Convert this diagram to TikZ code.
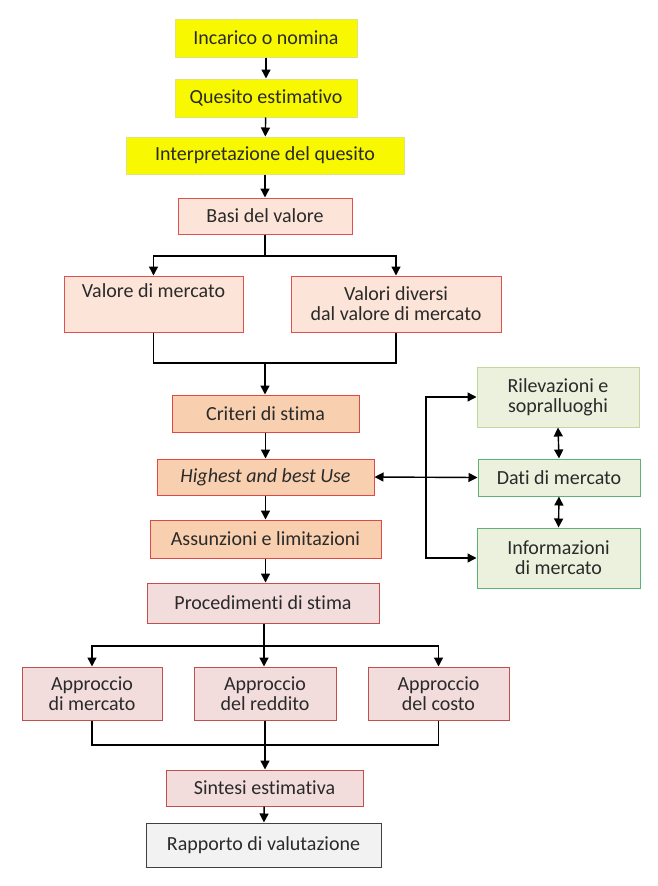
\documentclass[tikz,border=0pt]{standalone}
\usepackage{fontspec}
\setmainfont{Carlito}[Ligatures=NoCommon]
\usetikzlibrary{arrows.meta}
\definecolor{txt}{HTML}{2A2A2A}
\definecolor{yfill}{HTML}{F8F800}
\definecolor{yline}{HTML}{E2E27A}
\definecolor{pfill}{HTML}{FCE5D8}
\definecolor{pline}{HTML}{E0504F}
\definecolor{ofill}{HTML}{F8CFAF}
\definecolor{oline}{HTML}{E04848}
\definecolor{rfill}{HTML}{F2DCDC}
\definecolor{rline}{HTML}{C0504D}
\definecolor{gfill}{HTML}{EBF1DD}
\definecolor{glight}{HTML}{C3D69B}
\definecolor{gline}{HTML}{5DB27A}
\definecolor{wfill}{HTML}{F2F2F2}
\definecolor{wline}{HTML}{404040}
\tikzset{
  box/.style={rectangle, inner sep=0pt, align=center, text=txt, line width=1pt,
    font=\fontsize{20}{20}\selectfont},
  ybox/.style={box, fill=yfill, draw=yline},
  pbox/.style={box, fill=pfill, draw=pline},
  obox/.style={box, fill=ofill, draw=oline},
  rbox/.style={box, fill=rfill, draw=rline},
  gbox/.style={box, fill=gfill, draw=glight},
  gdbox/.style={box, fill=gfill, draw=gline},
  wbox/.style={box, fill=wfill, draw=wline},
  conn/.style={line width=1.4pt, black},
  arr/.style={conn, -{Triangle[length=9pt,width=9pt]}},
  darr/.style={conn, {Triangle[length=9pt,width=9pt]}-{Triangle[length=9pt,width=9pt]}}
}
% \bx{name}{style}{x1}{y1}{x2}{y2}{text}
\newcommand{\bx}[7]{%
  \node[#2, minimum width={(#5-#3)*1pt}, minimum height={(#6-#4)*1pt}]
    (#1) at ({(#3+#5)/2}, {(#4+#6)/2}) {#7};}
\begin{document}
\begin{tikzpicture}[x=1pt, y=-1pt]
\useasboundingbox (0,0) rectangle (657,886);
\bx{inc}{ybox}{175}{19}{357}{57}{Incarico o nomina}
\bx{que}{ybox}{175}{79}{357}{117}{Quesito estimativo}
\bx{int}{ybox}{126}{137}{404}{174}{Interpretazione del quesito}
\bx{bas}{pbox}{178}{198}{352}{234}{Basi del valore}
\bx{vm}{pbox}{64}{276}{243}{332}{Valore di mercato\\\strut}
\bx{vd}{pbox}{291}{276}{501}{332}{Valori diversi\\dal valore di mercato}
\bx{cri}{obox}{172}{395}{359}{432}{Criteri di stima}
\bx{hbu}{obox}{157}{459}{374}{495}{\textit{Highest and best Use}}
\bx{ass}{obox}{150}{520}{381}{558}{Assunzioni e limitazioni}
\bx{pro}{rbox}{147}{583}{379}{623}{Procedimenti di stima}
\bx{ril}{gbox}{477}{367}{639}{427}{Rilevazioni e\\sopralluoghi}
\bx{dat}{gdbox}{478}{459}{640}{496}{Dati di mercato}
\bx{inf}{gdbox}{477}{528}{640}{588}{Informazioni\\di mercato}
\bx{am}{rbox}{22}{667}{162}{720}{Approccio\\di mercato}
\bx{ar}{rbox}{194}{667}{336}{720}{Approccio\\del reddito}
\bx{ac}{rbox}{368}{667}{509}{720}{Approccio\\del costo}
\bx{sin}{rbox}{166}{770}{363}{806}{Sintesi estimativa}
\bx{rap}{wbox}{146}{823}{381}{867}{Rapporto di valutazione}

\draw[arr] (inc) -- (que);
\draw[arr] (que) -- (int);
\draw[arr] (int) -- (bas);
\coordinate (b1) at (265,256);
\draw[conn] (bas.south) -- (b1);
\draw[arr] (b1) -| (vm.north);
\draw[arr] (b1) -| (vd.north);
\coordinate (j1) at (265,363);
\draw[conn] (vm.south) |- (j1);
\draw[conn] (vd.south) |- (j1);
\draw[arr] (j1) -- (cri.north -| j1);
\draw[arr] (cri) -- (hbu);
\draw[arr] (hbu) -- (ass);
\draw[arr] (ass.south) -- (ass.south |- pro.north);
\coordinate (b2) at (264,646);
\draw[conn] (pro.south -| b2) -- (b2);
\draw[arr] (b2) -| (am.north);
\draw[arr] (b2) -- (ar.north -| b2);
\draw[arr] (b2) -| (ac.north);
\coordinate (j2) at (265,745);
\draw[conn] (am.south) |- (j2);
\draw[conn] (ac.south) |- (j2);
\draw[conn] (ar.south -| j2) -- (j2);
\draw[arr] (j2) -- (sin.north -| j2);
\draw[arr] (sin) -- (rap);
\coordinate (r1) at (426,397);
\coordinate (r2) at (426,558);
\draw[darr] (hbu.east) -- (dat.west);
\draw[arr] (r2) |- (ril.west);
\draw[arr] (r1) |- (inf.west);
\draw[darr] (ril.south) -- (dat.north);
\draw[darr] (dat.south) -- (inf.north);
\end{tikzpicture}
\end{document}
